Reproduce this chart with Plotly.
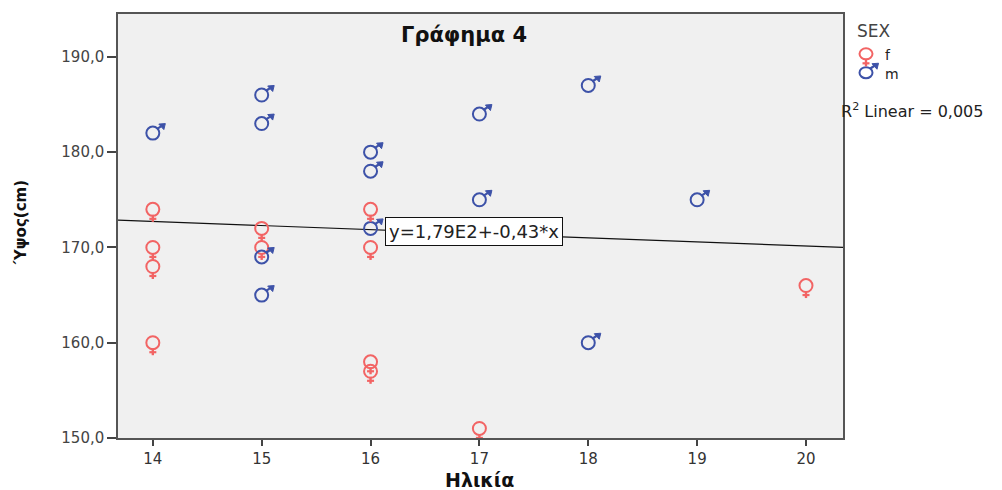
import plotly.graph_objects as go

# ---- data ----
female_age = [14, 14, 14, 14, 15, 15, 16, 16, 16, 16, 17, 20]
female_height = [174, 170, 168, 160, 172, 170, 174, 170, 158, 157, 151, 166]
male_age = [14, 15, 15, 15, 15, 16, 16, 16, 17, 17, 18, 18, 19]
male_height = [182, 186, 183, 169, 165, 180, 178, 172, 184, 175, 187, 160, 175]
fit_intercept = 178.75
fit_slope = -0.43
x_ticks = [14, 15, 16, 17, 18, 19, 20]
y_ticks = [150, 160, 170, 180, 190]
y_ticklabels = ["150,0", "160,0", "170,0", "180,0", "190,0"]

RED = "#f26464"
BLUE = "#3d52a8"
FONT = "DejaVu Sans"
BFONT = "DejaVu Sans"

X_RANGE = [13.68, 20.34]
Y_RANGE = [150, 194.5]

fig = go.Figure()

# regression line
fit_x = X_RANGE
fit_y = [fit_intercept + fit_slope * v for v in fit_x]
fig.add_trace(go.Scatter(x=fit_x, y=fit_y, mode="lines",
                         line=dict(color="#111111", width=1.2),
                         showlegend=False, hoverinfo="skip"))

fig.add_trace(go.Scatter(x=female_age, y=female_height, mode="markers", name="f",
                         marker=dict(symbol="circle-open", size=13, color=RED,
                                     line=dict(width=2, color=RED)),
                         showlegend=False))
fig.add_trace(go.Scatter(x=male_age, y=male_height, mode="markers", name="m",
                         marker=dict(symbol="circle-open", size=13, color=BLUE,
                                     line=dict(width=2, color=BLUE)),
                         showlegend=False))

shapes = []


def female_tail(xa, ya, xref="x", yref="y"):
    return [
        dict(type="line", xref=xref, yref=yref, xsizemode="pixel", ysizemode="pixel",
             xanchor=xa, yanchor=ya, x0=0, x1=0, y0=-5.5, y1=-12.5,
             line=dict(color=RED, width=2.4)),
        dict(type="line", xref=xref, yref=yref, xsizemode="pixel", ysizemode="pixel",
             xanchor=xa, yanchor=ya, x0=-3.5, x1=3.5, y0=-9.5, y1=-9.5,
             line=dict(color=RED, width=2.2)),
    ]


def male_tail(xa, ya, xref="x", yref="y"):
    return [
        dict(type="line", xref=xref, yref=yref, xsizemode="pixel", ysizemode="pixel",
             xanchor=xa, yanchor=ya, x0=4, x1=8.5, y0=4, y1=7,
             line=dict(color=BLUE, width=2.2)),
        dict(type="path", xref=xref, yref=yref, xsizemode="pixel", ysizemode="pixel",
             xanchor=xa, yanchor=ya, path="M 6,9 L 12.5,9.5 L 11,3.5 Z",
             fillcolor=BLUE, line=dict(color=BLUE, width=1)),
    ]


for a, h in zip(female_age, female_height):
    shapes += female_tail(a, h)
for a, h in zip(male_age, male_height):
    shapes += male_tail(a, h)

# manual legend
L, T, W, H = 118, 12, 725, 426


def px(xp):
    return (xp - L) / W


def py(yp):
    return (T + H - yp) / H


for xa, ya, col in [(px(866), py(52), RED), (px(866), py(71), BLUE)]:
    shapes.append(dict(type="circle", xref="paper", yref="paper", xsizemode="pixel",
                       ysizemode="pixel", xanchor=xa, yanchor=ya, x0=-6.5, x1=6.5,
                       y0=-5.5, y1=5.5, line=dict(color=col, width=2)))
shapes += female_tail(px(866), py(52), "paper", "paper")
shapes += male_tail(px(866), py(71), "paper", "paper")


def ann(text, x, y, size, color="#222222", family=FONT, xanchor="center", **kw):
    return dict(text=text, x=x, y=y, xref=kw.pop("xref", "paper"),
                yref=kw.pop("yref", "paper"), xanchor=xanchor, yanchor="middle",
                showarrow=False, font=dict(family=family, size=size, color=color), **kw)


annotations = [
    ann("<b>Γράφημα 4</b>", px(464), py(33), 21, "#111111", BFONT),
    ann("<b>Ηλικία</b>", px(479), py(480), 19, "#111111", BFONT),
    ann("<b>Ύψος(cm)</b>", px(21), py(222), 15, "#111111", BFONT, textangle=-90),
    ann("SEX", px(855), py(29), 17, "#444444", xanchor="left"),
    ann("f", px(883), py(53), 14, "#222222", xanchor="left"),
    ann("m", px(883), py(72), 14, "#222222", xanchor="left"),
    ann("R<sup>2</sup> Linear = 0,005", px(839), py(109), 16, "#222222", xanchor="left"),
    ann("y=1,79E2+-0,43*x", 16.13, 171.7, 18, "#222222", xanchor="left",
        xref="x", yref="y", bgcolor="white", bordercolor="#111111",
        borderwidth=1, borderpad=3),
]

fig.update_layout(
    width=1002, height=490,
    margin=dict(l=L, r=1002 - L - W, t=T, b=490 - T - H),
    paper_bgcolor="white", plot_bgcolor="#f0f0f0",
    font=dict(family=FONT, size=14, color="#333333"),
    shapes=shapes, annotations=annotations, showlegend=False,
    xaxis=dict(range=X_RANGE, tickvals=x_ticks, ticktext=[str(v) for v in x_ticks],
               showgrid=False, zeroline=False, showline=True, mirror=True,
               linecolor="#555555", linewidth=1.5, ticks="outside", ticklen=6,
               tickwidth=2, tickcolor="#444444",
               tickfont=dict(family=FONT, size=15, color="#333333")),
    yaxis=dict(range=Y_RANGE, tickvals=y_ticks, ticktext=y_ticklabels,
               showgrid=False, zeroline=False, showline=True, mirror=True,
               linecolor="#555555", linewidth=1.5, ticks="outside", ticklen=9,
               tickwidth=2, tickcolor="#444444",
               tickfont=dict(family=FONT, size=15, color="#444444")),
)

fig.write_html("out.html")
